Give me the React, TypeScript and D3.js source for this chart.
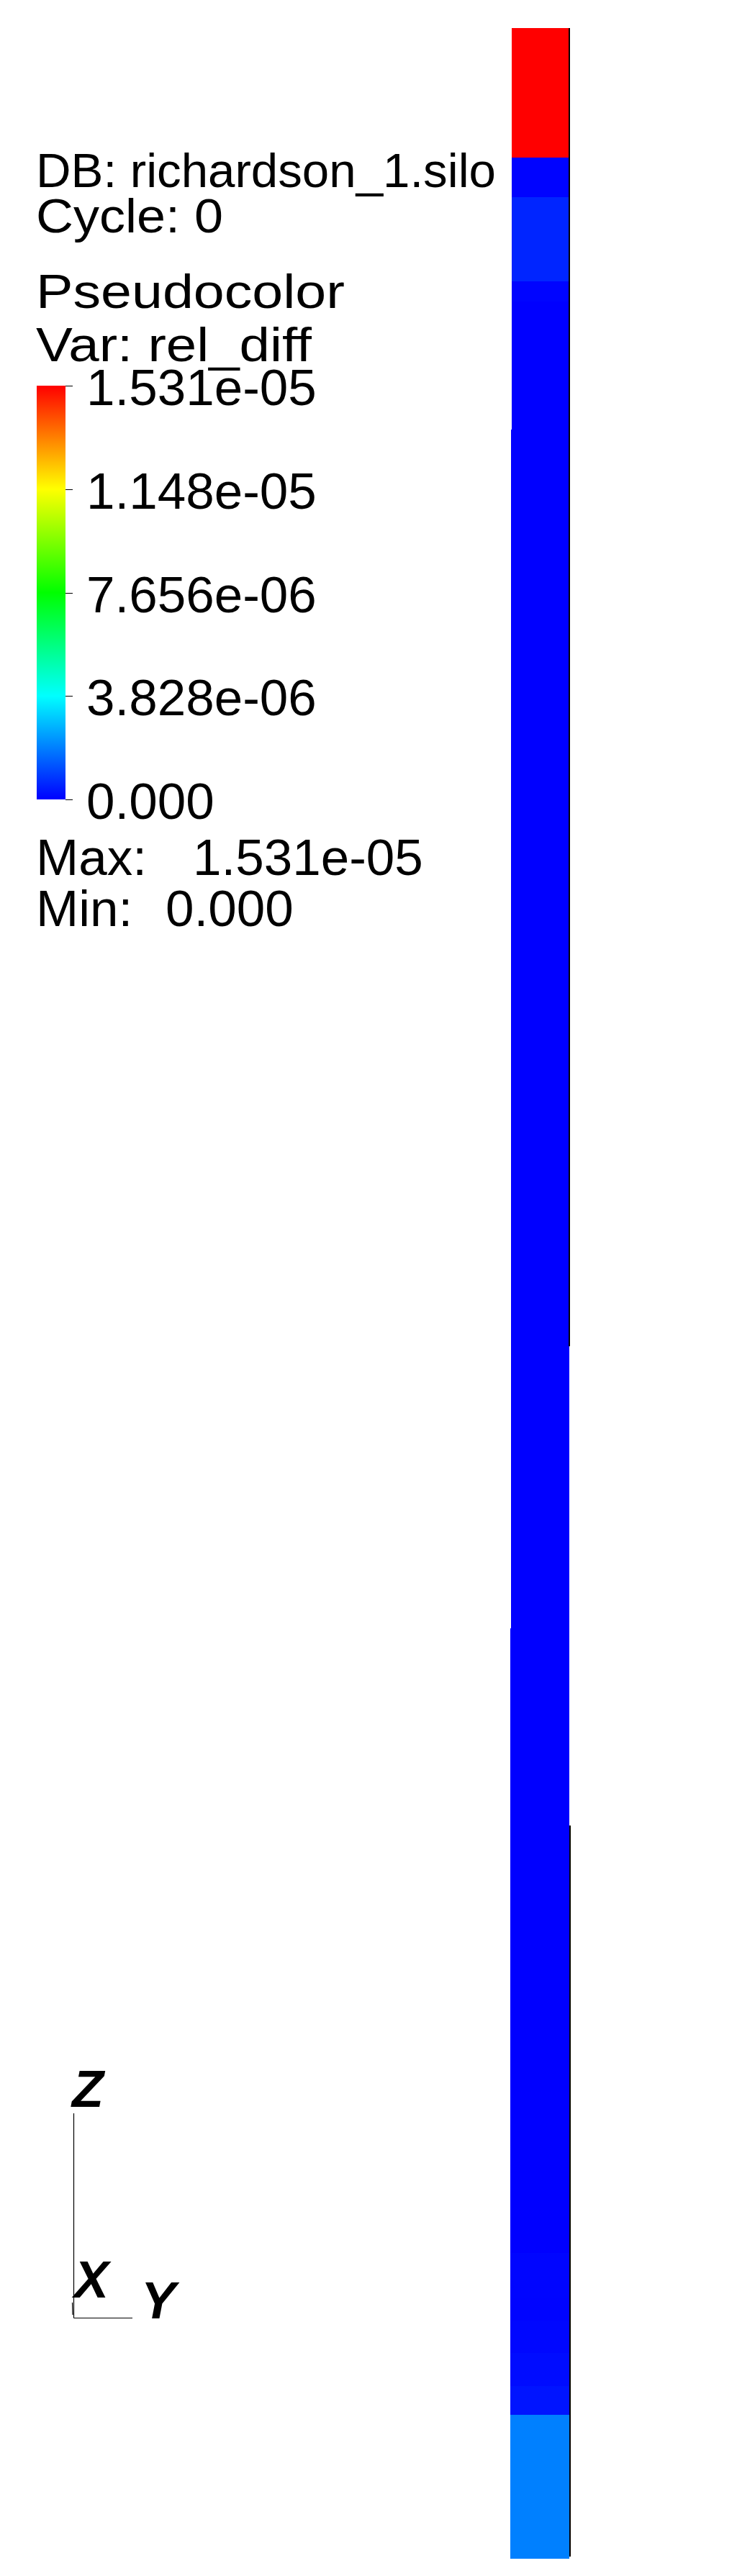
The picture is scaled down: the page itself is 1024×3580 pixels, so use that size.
import React from "react";
import * as d3 from "d3";

const DB_NAME = "richardson_1.silo";
const CYCLE = 0;
const PLOT_NAME = "Pseudocolor";
const VAR_NAME = "rel_diff";
const DATA_MIN = 0;
const DATA_MAX = 1.53125e-5;

// legend ticks, bottom to top
const legendTickLabels = ["0.000", "3.828e-06", "7.656e-06", "1.148e-05", "1.531e-05"];
const maxLabel = "1.531e-05";
const minLabel = "0.000";

// cell edges along z (mesh units, bottom -> top) and rel_diff of every cell
const zEdges = [0, 2.5, 3.0, 3.58, 4.14, 4.54, 5.32, 39.25, 39.6, 41.06, 41.75, 44];
const cellValues = [1.92e-6, 3.0e-7, 1.8e-7, 1.0e-7, 6e-8, 8e-8, 0, 6e-8, 5.6e-7, 5e-8, 1.53125e-5];

// mesh blocks (domains), they sit a little off each other in x
const blockZ0 = [37.02, 21.08, 16.18, 12.75, 0];
const blockZ1 = [44, 37.02, 21.08, 16.18, 12.75];
const blockX0 = [-0.488, -0.5, -0.5, -0.513, -0.513];
const blockX1 = [0.5, 0.5, 0.513, 0.513, 0.513];
const blockShadow = [true, true, false, false, true];

const W = 1024;
const H = 3580;
const FONT = "'Liberation Sans', Arial, sans-serif";

const App = () => {
  // mesh -> screen
  const zScale = d3.scaleLinear().domain([0, 44]).range([3556, 39]);
  const xScale = d3.scaleLinear().domain([-0.5, 0.5]).range([710, 790]);

  // VisIt "hot" like table: blue, cyan, green, yellow, red
  const color = d3
    .scaleLinear<string>()
    .domain([0, 0.25, 0.5, 0.75, 1].map((t) => DATA_MIN + t * (DATA_MAX - DATA_MIN)))
    .range(["#0000ff", "#00ffff", "#00ff00", "#ffff00", "#ff0000"])
    .interpolate(d3.interpolateRgb)
    .clamp(true);

  const legendY = d3.scaleLinear().domain([DATA_MIN, DATA_MAX]).range([1111, 536]);
  const legendTicks = legendTickLabels.map(
    (_, i) => DATA_MIN + (i * (DATA_MAX - DATA_MIN)) / (legendTickLabels.length - 1)
  );

  const cells = cellValues.map((v, i) => ({ z0: zEdges[i], z1: zEdges[i + 1], v }));

  const pieces = [];
  blockZ0.forEach((bz0, b) => {
    const bz1 = blockZ1[b];
    cells.forEach((c, i) => {
      const lo = Math.max(bz0, c.z0);
      const hi = Math.min(bz1, c.z1);
      if (hi <= lo) return;
      pieces.push({ key: `${b}-${i}`, b, lo, hi, v: c.v });
    });
  });

  const gradStops = d3.range(0, 1.0001, 0.05);

  return (
    <svg
      width={W}
      height={H}
      style={{ position: "absolute", left: 0, top: 0, background: "#fff" }}
      fontFamily={FONT}
    >
      <defs>
        <linearGradient id="legendGrad" x1="0" y1="1" x2="0" y2="0">
          {gradStops.map((t) => (
            <stop
              key={t}
              offset={t}
              stopColor={color(DATA_MIN + t * (DATA_MAX - DATA_MIN))}
            />
          ))}
        </linearGradient>
      </defs>

      {/* the column */}
      <g>
        {pieces.map((p) => (
          <rect
            key={p.key}
            x={xScale(blockX0[p.b])}
            width={xScale(blockX1[p.b]) - xScale(blockX0[p.b])}
            y={zScale(p.hi)}
            height={zScale(p.lo) - zScale(p.hi)}
            fill={color(p.v)}
            shapeRendering="crispEdges"
          />
        ))}
        {blockZ0.map((bz0, b) =>
          blockShadow[b] ? (
            <rect
              key={"s" + b}
              x={xScale(blockX1[b])}
              width={2}
              y={zScale(blockZ1[b])}
              height={zScale(bz0) - zScale(blockZ1[b]) - (b === blockZ0.length - 1 ? 3 : 0)}
              fill="#000"
              shapeRendering="crispEdges"
            />
          ) : null
        )}
      </g>

      {/* header */}
      <g fontSize={67} fill="#000">
        <text x={50} y={260} textLength={639} lengthAdjust="spacingAndGlyphs">
          {`DB: ${DB_NAME}`}
        </text>
        <text x={50} y={323} textLength={260} lengthAdjust="spacingAndGlyphs">
          {`Cycle: ${CYCLE}`}
        </text>
        <text x={50} y={428} textLength={429} lengthAdjust="spacingAndGlyphs">
          {PLOT_NAME}
        </text>
        <text x={50} y={502} textLength={383} lengthAdjust="spacingAndGlyphs">
          {`Var: ${VAR_NAME}`}
        </text>
      </g>

      {/* legend */}
      <rect
        x={51}
        y={legendY(DATA_MAX)}
        width={40}
        height={legendY(DATA_MIN) - legendY(DATA_MAX)}
        fill="url(#legendGrad)"
      />
      <g fontSize={71} fill="#000">
        {legendTicks.map((t, i) => (
          <g key={i}>
            <line
              x1={91}
              x2={101}
              y1={Math.round(legendY(t)) + 0.5}
              y2={Math.round(legendY(t)) + 0.5}
              stroke="#000"
              strokeWidth={1}
            />
            <text x={120} y={legendY(t) + 27}>
              {legendTickLabels[i]}
            </text>
          </g>
        ))}
        <text x={50} y={1216}>Max:</text>
        <text x={268} y={1216}>{maxLabel}</text>
        <text x={50} y={1287}>Min:</text>
        <text x={230} y={1287}>{minLabel}</text>
      </g>

      {/* axis triad */}
      <g stroke="#000" strokeWidth={1.2} fill="none">
        <line x1={102.5} y1={2937} x2={102.5} y2={3221.5} />
        <line x1={102.5} y1={3221.5} x2={184} y2={3221.5} />
        <line x1={100.5} y1={3200} x2={101} y2={3217} />
      </g>
      <g fontSize={72} fontWeight="bold" fontStyle="italic" fill="#000">
        <text x={100} y={2928}>Z</text>
        <text x={103} y={3193}>X</text>
        <text x={196} y={3222}>Y</text>
      </g>
    </svg>
  );
};

export default App;
